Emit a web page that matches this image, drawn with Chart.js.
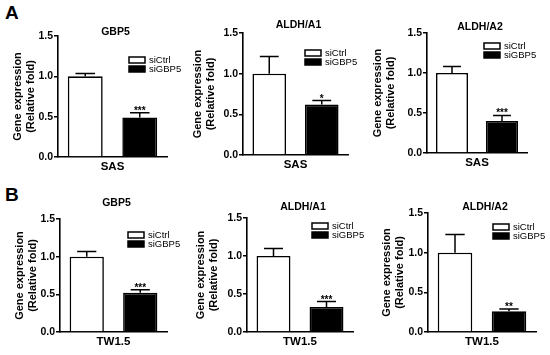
<!DOCTYPE html>
<html>
<head>
<meta charset="utf-8">
<title>GBP5 knockdown - gene expression</title>
<script src="https://cdn.jsdelivr.net/npm/chart.js@4.4.1/dist/chart.umd.min.js"></script>
<style>
  body { margin:0; background:#fff; }
  #wrap { position:relative; width:550px; height:355px; overflow:hidden; background:#fff; }
  #wrap canvas { position:absolute; }
  .letter { position:absolute; font:bold 19px 'Liberation Sans', Arial, sans-serif; }
</style>
</head>
<body>
<div id="wrap">
  <div class="letter" style="left:5px;top:2px">A</div>
  <div class="letter" style="left:5px;top:184px">B</div>
</div>
<script>
const genes = ['GBP5', 'ALDH/A1', 'ALDH/A2', 'GBP5', 'ALDH/A1', 'ALDH/A2'];
const cellLines = ['SAS', 'SAS', 'SAS', 'TW1.5', 'TW1.5', 'TW1.5'];
const groups = ['siCtrl', 'siGBP5'];
const siCtrl = [1.00, 1.00, 1.00, 1.00, 1.00, 1.00];
const siCtrlErr = [0.035, 0.21, 0.08, 0.07, 0.10, 0.23];
const siGBP5 = [0.49, 0.62, 0.40, 0.52, 0.33, 0.26];
const siGBP5Err = [0.06, 0.05, 0.07, 0.04, 0.07, 0.03];
const stars = ['***', '*', '***', '***', '***', '**'];
const yTicks = [0, 0.5, 1.0, 1.5];

// where each plot sits in the figure: chart area l/t/w/h, y axis width,
// title y, legend offset from top (ly) and from the right edge (lx)
const boxes = [
  {l: 58,  t: 36,  w: 109, h: 121, yw: 58, ty: 32,  ly: 21, lx: 38},
  {l: 243, t: 33,  w: 105, h: 122, yw: 63, ty: 25,  ly: 17, lx: 43},
  {l: 427, t: 33,  w: 100, h: 120, yw: 67, ty: 27,  ly: 10, lx: 43},
  {l: 60,  t: 219, w: 107, h: 113, yw: 58, ty: 203, ly: 13, lx: 39},
  {l: 247, t: 218, w: 106, h: 114, yw: 64, ty: 207, ly: 5,  lx: 41},
  {l: 428, t: 213, w: 108, h: 119, yw: 59, ty: 207, ly: 11, lx: 43},
];

const FONT = "'Liberation Sans', Arial, sans-serif";
const PAD_TOP = 24, X_H = 20, PAD_R = 16;

// error bars, stars, title and the little legend
const extras = {
  id: 'extras',
  afterDatasetsDraw(chart, args, opts) {
    const ctx = chart.ctx, ys = chart.scales.y, area = chart.chartArea;
    ctx.save();
    ctx.strokeStyle = '#000';
    ctx.fillStyle = '#000';
    ctx.lineWidth = 1.5;
    chart.data.datasets.forEach((ds, i) => {
      const bar = chart.getDatasetMeta(i).data[0];
      const top = ys.getPixelForValue(ds.data[0] + ds.err);
      const cap = bar.width * 0.28;
      ctx.beginPath();
      ctx.moveTo(bar.x, bar.y);
      ctx.lineTo(bar.x, top);
      ctx.moveTo(bar.x - cap, top);
      ctx.lineTo(bar.x + cap, top);
      ctx.stroke();
      if (ds.star) {
        ctx.font = 'bold 10px ' + FONT;
        ctx.textAlign = 'center';
        ctx.textBaseline = 'alphabetic';
        ctx.fillText(ds.star, bar.x, top + 1);
      }
    });

    ctx.font = 'bold 10.5px ' + FONT;
    ctx.textAlign = 'center';
    ctx.textBaseline = 'middle';
    ctx.fillText(opts.title, (area.left + area.right) / 2 + 3, area.top - opts.titleOff);

    ctx.font = '9.5px ' + FONT;
    ctx.textAlign = 'left';
    chart.data.datasets.forEach((ds, i) => {
      const bx = area.right - opts.lx, by = area.top + opts.ly + i * 9;
      ctx.fillStyle = ds.backgroundColor;
      ctx.fillRect(bx, by, 16, 6);
      ctx.strokeRect(bx, by, 16, 6);
      ctx.fillStyle = '#000';
      ctx.fillText(ds.label, bx + 20, by + 3.5);
    });
    ctx.restore();
  }
};

const wrap = document.getElementById('wrap');

boxes.forEach((b, k) => {
  const canvas = document.createElement('canvas');
  canvas.width = b.yw + b.w + PAD_R;
  canvas.height = PAD_TOP + b.h + X_H;
  canvas.style.left = (b.l - b.yw) + 'px';
  canvas.style.top = (b.t - PAD_TOP) + 'px';
  wrap.appendChild(canvas);

  new Chart(canvas, {
    type: 'bar',
    data: {
      labels: [cellLines[k]],
      datasets: [
        {label: groups[0], data: [siCtrl[k]], err: siCtrlErr[k], backgroundColor: '#fff', borderColor: '#000', borderWidth: 1.6},
        {label: groups[1], data: [siGBP5[k]], err: siGBP5Err[k], star: stars[k], backgroundColor: '#000', borderColor: '#000', borderWidth: 1.6},
      ]
    },
    options: {
      responsive: false,
      animation: false,
      layout: {padding: {top: PAD_TOP, right: PAD_R, left: 0, bottom: 0}},
      datasets: {bar: {categoryPercentage: 1.0, barPercentage: 0.64}},
      plugins: {
        legend: {display: false},
        title: {display: false},
        tooltip: {enabled: false},
        extras: {title: genes[k], titleOff: b.t - b.ty, ly: b.ly, lx: b.lx},
      },
      scales: {
        x: {
          afterFit: s => { s.height = X_H; },
          grid: {display: false, drawTicks: false},
          border: {display: true, color: '#000', width: 1.6},
          ticks: {color: '#000', padding: 3, font: {family: FONT, size: 11.5, weight: 'bold'}},
        },
        y: {
          min: 0, max: 1.5,
          afterFit: s => { s.width = b.yw; },
          afterBuildTicks: s => { s.ticks = yTicks.map(v => ({value: v})); },
          grid: {display: true, drawOnChartArea: false, drawTicks: true, tickLength: 4, color: '#000', lineWidth: 1.5},
          border: {display: true, color: '#000', width: 1.6},
          ticks: {color: '#000', padding: 1, font: {family: FONT, size: 10.5, weight: 'bold'}, callback: v => v.toFixed(1)},
          title: {
            display: true,
            text: ['Gene expression', '(Relative fold)'],
            color: '#000',
            font: {family: FONT, size: 11, weight: 'bold', lineHeight: 1.2},
            padding: {top: 11, bottom: 0},
          },
        },
      },
    },
    plugins: [extras],
  });
});
</script>
</body>
</html>
